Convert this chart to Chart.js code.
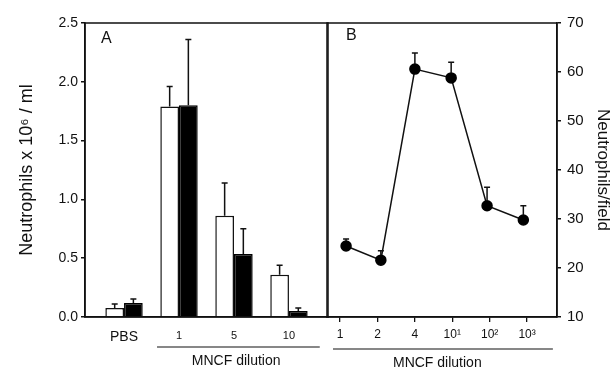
<!DOCTYPE html>
<html><head><meta charset="utf-8">
<script src="https://cdn.jsdelivr.net/npm/chart.js@4.4.1/dist/chart.umd.min.js"></script>
<style>
html,body{margin:0;padding:0;background:#fff;width:613px;height:369px;overflow:hidden}
#ca{position:absolute;left:0;top:0}
#cb{position:absolute;left:320px;top:0}
</style></head><body>
<canvas id="ca" width="332" height="369"></canvas>
<canvas id="cb" width="293" height="369"></canvas>
<script>
// ---- Panel A data ----
const categoriesA = ['PBS', '1', '5', '10'];
const openBars = [0.077, 1.79, 0.86, 0.36];
const openErrTop = [0.11, 1.96, 1.14, 0.44];
const filledBars = [0.12, 1.80, 0.535, 0.05];
const filledErrTop = [0.153, 2.36, 0.75, 0.077];
const yTicksA = [0, 0.5, 1.0, 1.5, 2.0, 2.5];

// ---- Panel B data ----
const dilutionLabelsB = ['1', '2', '4', '10\u00B9', '10\u00B2', '10\u00B3'];
const pointPosB = [0.16, 1.09, 2.0, 2.97, 3.93, 4.9];
const countsB = [24.5, 21.6, 60.6, 58.8, 32.7, 29.8];
const countsErrTopB = [25.9, 23.5, 63.9, 62.0, 36.5, 32.7];
const yTicksB = [10, 20, 30, 40, 50, 60, 70];

const FAM = "'Liberation Sans', Arial, Helvetica, sans-serif";
const INK = '#111';
Chart.defaults.font.family = FAM;
Chart.defaults.color = INK;

const errorBars = {
  id: 'errorBars',
  afterDatasetsDraw(chart) {
    const ctx = chart.ctx, ys = chart.scales.y;
    chart.data.datasets.forEach((ds, i) => {
      if (!ds.errTop) return;
      const meta = chart.getDatasetMeta(i);
      meta.data.forEach((el, j) => {
        const d = ds.data[j];
        const v = (typeof d === 'object') ? d.y : d;
        const x = el.x;
        let y0 = ys.getPixelForValue(v);
        if (chart.config.type === 'line') y0 -= (ds.pointRadius || 0);
        const y1 = ys.getPixelForValue(ds.errTop[j]);
        ctx.save();
        ctx.strokeStyle = INK; ctx.lineWidth = 1.5;
        ctx.beginPath();
        ctx.moveTo(x, y0); ctx.lineTo(x, y1);
        ctx.moveTo(x - 3, y1); ctx.lineTo(x + 3, y1);
        ctx.stroke();
        ctx.restore();
      });
    });
  }
};

const frame = {
  id: 'frame',
  afterDraw(chart, args, o) {
    const ctx = chart.ctx, a = chart.chartArea, xs = chart.scales.x;
    ctx.save();
    ctx.strokeStyle = INK; ctx.lineWidth = 1.5;
    ctx.strokeRect(a.left, a.top, a.right - a.left, a.bottom - a.top);
    ctx.fillStyle = INK;
    ctx.font = '16px ' + FAM;
    ctx.textAlign = 'left'; ctx.textBaseline = 'middle';
    ctx.fillText(o.letter, a.left + o.letterDx, a.top + o.letterDy);
    const x0 = xs.getPixelForValue(o.lineFrom), x1 = xs.getPixelForValue(o.lineTo);
    ctx.lineWidth = 1.2;
    ctx.beginPath(); ctx.moveTo(x0, o.lineY); ctx.lineTo(x1, o.lineY); ctx.stroke();
    ctx.font = '14px ' + FAM;
    ctx.textAlign = 'center';
    ctx.fillText('MNCF dilution', xs.getPixelForValue(o.textAt), o.textY);
    ctx.restore();
  }
};

// ---------- Panel A ----------
new Chart(document.getElementById('ca'), {
  type: 'bar',
  data: {
    datasets: [
      { label: 'open', data: openBars.map((y, i) => ({ x: i, y })), errTop: openErrTop,
        backgroundColor: '#fff', borderColor: INK, borderWidth: 1.5 },
      { label: 'filled', data: filledBars.map((y, i) => ({ x: i, y })), errTop: filledErrTop,
        backgroundColor: '#000', borderColor: '#000', borderWidth: 1.5 }
    ]
  },
  options: {
    responsive: false, animation: false,
    layout: { padding: { top: 23, right: 4, left: 0, bottom: 0 } },
    datasets: { bar: { categoryPercentage: 0.68, barPercentage: 1.0 } },
    plugins: {
      legend: { display: false }, tooltip: { enabled: false },
      frame: { letter: 'A', letterDx: 16, letterDy: 16, lineFrom: 0.6, lineTo: 3.56, lineY: 347, textAt: 2.04, textY: 361 }
    },
    scales: {
      x: {
        type: 'linear', min: -0.71, max: 3.71, offset: false,
        afterBuildTicks: s => { s.ticks = categoriesA.map((c, i) => ({ value: i })); },
        afterFit: s => { s.height = 52; },
        grid: { display: true, offset: false, drawOnChartArea: false, drawTicks: false },
        border: { display: true, color: INK, width: 1.5 },
        ticks: {
          padding: 12, color: INK, maxRotation: 0, autoSkip: false,
          callback: (v, i) => categoriesA[i],
          font: c => ({ size: c.index === 0 ? 14 : 11, family: FAM })
        }
      },
      y: {
        min: 0, max: 2.5,
        afterBuildTicks: s => { s.ticks = yTicksA.map(v => ({ value: v })); },
        afterFit: s => { s.width = 85; },
        grid: { display: true, drawOnChartArea: false, drawTicks: true, tickLength: 4, color: INK, lineWidth: 1.5 },
        border: { display: true, color: INK, width: 1.5 },
        ticks: { padding: 3, color: INK, font: { size: 14, family: FAM }, callback: v => v.toFixed(1) },
        title: { display: true, text: 'Neutrophils x 10\u2076 / ml', color: INK, font: { size: 18, family: FAM }, padding: { top: 16, bottom: 0 } }
      }
    }
  },
  plugins: [errorBars, frame]
});

// ---------- Panel B ----------
new Chart(document.getElementById('cb'), {
  type: 'line',
  data: {
    datasets: [
      { label: 'B', data: pointPosB.map((x, i) => ({ x, y: countsB[i] })), errTop: countsErrTopB,
        borderColor: INK, borderWidth: 1.5, pointRadius: 5, pointBackgroundColor: '#000',
        pointBorderColor: '#000', tension: 0, fill: false }
    ]
  },
  options: {
    responsive: false, animation: false,
    layout: { padding: { top: 23, right: 0, left: 7, bottom: 0 } },
    plugins: {
      legend: { display: false }, tooltip: { enabled: false },
      frame: { letter: 'B', letterDx: 19, letterDy: 13, lineFrom: -0.19, lineTo: 5.69, lineY: 349, textAt: 2.6, textY: 363 }
    },
    scales: {
      x: {
        type: 'linear', min: -0.35, max: 5.8, offset: false,
        afterBuildTicks: s => { s.ticks = dilutionLabelsB.map((c, i) => ({ value: i })); },
        afterFit: s => { s.height = 52; },
        grid: { display: true, drawOnChartArea: false, drawTicks: true, tickLength: 5, color: INK, lineWidth: 1.3 },
        border: { display: true, color: INK, width: 1.5 },
        ticks: { padding: 5, color: INK, maxRotation: 0, autoSkip: false,
          callback: (v, i) => dilutionLabelsB[i], font: { size: 12, family: FAM } }
      },
      y: {
        position: 'right', min: 10, max: 70,
        afterBuildTicks: s => { s.ticks = yTicksB.map(v => ({ value: v })); },
        afterFit: s => { s.width = 56; },
        grid: { display: true, drawOnChartArea: false, drawTicks: true, tickLength: 4, color: INK, lineWidth: 1.5 },
        border: { display: true, color: INK, width: 1.5 },
        ticks: { padding: 6, color: INK, font: { size: 15, family: FAM } },
        title: { display: true, text: 'Neutrophils/field', color: INK, font: { size: 17, family: FAM }, padding: { top: 0, bottom: 0 } }
      }
    }
  },
  plugins: [errorBars, frame]
});
</script>
</body></html>
